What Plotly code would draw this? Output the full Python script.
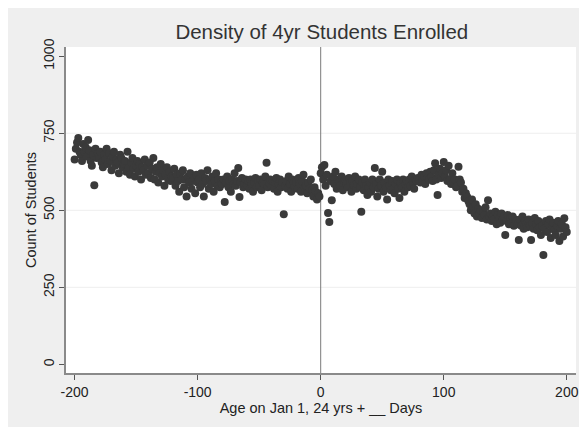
import plotly.graph_objects as go

# Days relative to Jan 1 at age 24
days = list(range(-200, 201))

# Count of students per day (row of 20 days each)
counts = [
    # -200 .. -181
    665, 700, 720, 735, 690, 680, 660, 715, 690, 705, 675, 728, 695, 660, 645, 680, 581, 700, 670, 685,
    # -180 .. -161
    672, 690, 655, 640, 680, 665, 700, 650, 685, 660, 630, 675, 690, 645, 665, 655, 620, 680, 670, 640,
    # -160 .. -141
    650, 660, 625, 690, 640, 615, 655, 670, 635, 610, 645, 660, 625, 650, 600, 640, 630, 665, 615, 645,
    # -140 .. -121
    620, 655, 605, 635, 670, 600, 625, 640, 590, 620, 650, 610, 630, 580, 615, 640, 600, 625, 595, 610,
    # -120 .. -101
    605, 635, 580, 615, 595, 560, 620, 600, 630, 575, 600, 545, 610, 590, 620, 570, 595, 605, 555, 615,
    # -100 .. -81
    590, 600, 575, 620, 585, 545, 605, 595, 630, 570, 600, 585, 610, 560, 595, 620, 580, 600, 575, 590,
    # -80 .. -61
    585, 600, 527, 590, 610, 575, 595, 560, 600, 585, 620, 580, 595, 637, 543, 590, 605, 575, 585, 600,
    # -60 .. -41
    580, 595, 570, 600, 585, 560, 590, 605, 575, 595, 580, 600, 565, 590, 585, 610, 654, 575, 590, 600,
    # -40 .. -21
    580, 595, 570, 590, 605, 560, 585, 600, 575, 590, 487, 580, 595, 570, 610, 585, 560, 600, 590, 575,
    # -20 .. -1
    590, 570, 605, 585, 560, 595, 615, 575, 580, 555, 590, 570, 600, 565, 545, 575, 560, 535, 555, 545,
    # 0 .. 19
    620, 640, 600, 647, 580, 615, 491, 462, 595, 533, 610, 585, 625, 570, 600, 590, 580, 610, 565, 595,
    # 20 .. 39
    600, 585, 575, 605, 590, 560, 595, 580, 610, 570, 585, 600, 575, 495, 590, 565, 600, 580, 550, 575,
    # 40 .. 59
    590, 560, 600, 575, 637, 585, 545, 570, 600, 580, 625, 560, 590, 575, 535, 600, 580, 565, 595, 570,
    # 60 .. 79
    555, 585, 600, 570, 540, 590, 575, 600, 560, 585, 595, 575, 600, 580, 610, 590, 570, 600, 595, 605,
    # 80 .. 99
    600, 590, 615, 595, 610, 585, 620, 605, 600, 625, 610, 595, 630, 653, 600, 550, 615, 635, 605, 620,
    # 100 .. 119
    657, 610, 630, 595, 645, 600, 585, 620, 590, 600, 575, 580, 641, 600, 590, 560, 570, 540, 555, 544,
    # 120 .. 139
    530, 520, 500, 535, 510, 490, 520, 480, 505, 490, 500, 475, 495, 485, 510, 470, 533, 480, 490, 465,
    # 140 .. 159
    480, 470, 495, 455, 485, 475, 460, 490, 470, 480, 420, 465, 485, 455, 475, 460, 480, 450, 470, 465,
    # 160 .. 179
    455, 404, 470, 450, 480, 440, 465, 455, 445, 470, 450, 404, 460, 440, 475, 455, 435, 465, 445, 420,
    # 180 .. 200
    450, 355, 440, 465, 430, 455, 470, 410, 445, 460, 435, 420, 450, 465, 400, 440, 455, 415, 474, 445, 430,
]

y_ticks = [0, 250, 500, 750, 1000]
y_ticktext = ["0", "250", "500", "750", "1000"]
x_ticks = [-200, -100, 0, 100, 200]
x_ticktext = ["-200", "-100", "0", "100", "200"]
grid_levels = [250, 500, 750]
cutoff = 0

FONT = "Liberation Sans, Arial, sans-serif"
BG = "#efefef"
AXIS = "#8a8a8a"

fig = go.Figure()
fig.add_trace(go.Scatter(
    x=days, y=counts, mode="markers",
    marker=dict(size=8, color="#3a3a3a", line=dict(width=0)),
    showlegend=False, hoverinfo="x+y",
))

shapes = []
for g in grid_levels:
    shapes.append(dict(type="line", xref="paper", yref="y", x0=0, x1=1, y0=g, y1=g,
                       line=dict(color="#eeeeee", width=1), layer="below"))
shapes.append(dict(type="line", xref="x", yref="paper", x0=cutoff, x1=cutoff, y0=0, y1=1,
                   line=dict(color="#7a7a7a", width=1), layer="below"))

fig.update_layout(
    width=579, height=419,
    margin=dict(l=58, r=8, t=39, b=54),
    paper_bgcolor=BG, plot_bgcolor="white",
    font=dict(family=FONT, color="#222222", size=14),
    title=dict(text="Density of 4yr Students Enrolled", x=0.542, xanchor="center",
               y=0.943, yanchor="middle", font=dict(size=20.5, color="#333333")),
    shapes=shapes,
    xaxis=dict(
        range=[-207, 207.5], tickvals=x_ticks, ticktext=x_ticktext, ticks="outside",
        ticklen=5, tickwidth=1, tickcolor="#555555", showgrid=False, zeroline=False,
        showline=True, linecolor=AXIS, linewidth=1.5, tickfont=dict(size=14, color="#222222"),
        title=dict(text="Age on Jan 1, 24 yrs + __ Days", font=dict(size=14.5), standoff=0),
    ),
    yaxis=dict(
        range=[-28, 1030], tickvals=y_ticks, ticktext=y_ticktext, tickangle=-90,
        ticks="outside", ticklen=5, tickwidth=1, tickcolor="#555555",
        showgrid=False, zeroline=False, showline=True, linecolor=AXIS, linewidth=1.5,
        tickfont=dict(size=14, color="#222222"),
        title=dict(text="Count of Students", font=dict(size=14.5), standoff=1),
    ),
)

fig.write_html("out.html")
